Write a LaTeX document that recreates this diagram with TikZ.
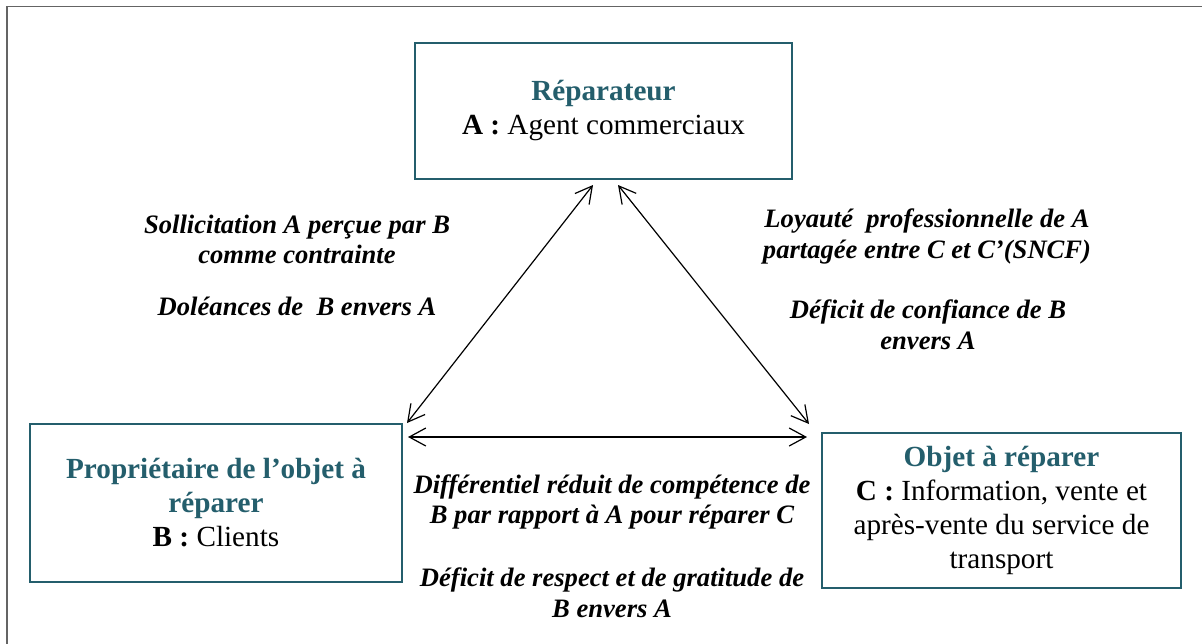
\documentclass[tikz,border=0pt]{standalone}
\usepackage{fontspec}
\setmainfont{Liberation Serif}
\usetikzlibrary{arrows.meta}
\definecolor{boxteal}{RGB}{36,94,108}
\definecolor{framegray}{RGB}{100,100,100}
\begin{document}
\begin{tikzpicture}[x=0.5pt,y=-0.5pt,
  box/.style={draw=boxteal, line width=1pt, inner sep=0pt, align=center,
    font=\fontsize{14.6}{17}\selectfont},
  lbl/.style={anchor=base, inner sep=0pt, font=\fontsize{13.3}{15}\selectfont\bfseries\itshape},
  arr/.style={{Straight Barb[length=8.3pt,width=9pt]}-{Straight Barb[length=8.3pt,width=9pt]}, line width=0.6pt}
]
\useasboundingbox (0,0) rectangle (1202,643);
\draw[framegray, line width=0.8pt] (7,660) -- (7,6.5) -- (1220,6.5);

% boxes
\node[box, minimum width=188.5pt, minimum height=68pt] (A) at (603.5,111)
  {\textcolor{boxteal}{\textbf{Réparateur}}\\\textbf{A :} Agent commerciaux};
\node[box, minimum width=186pt, minimum height=79pt] (B) at (216,503)
  {\textcolor{boxteal}{\textbf{Propriétaire de l’objet à}}\\\textcolor{boxteal}{\textbf{réparer}}\\\textbf{B :} Clients};
\node[box, minimum width=179.5pt, minimum height=77.5pt] (C) at (1001.5,510.5)
  {\textcolor{boxteal}{\textbf{Objet à réparer}}\\\textbf{C :} Information, vente et\\après-vente du service de\\transport};

% connector ends
\coordinate (aB) at (593,185);
\coordinate (aC) at (618,185);
\coordinate (bA) at (407,423);
\coordinate (bC) at (408,437);
\coordinate (cA) at (809,424);
\coordinate (cB) at (807,437);

\draw[arr] (aB) -- (bA);
\draw[arr] (aC) -- (cA);
\draw[arr] (bC) -- (cB);

% labels A-B
\node[lbl] (l1) at (297,233) {Sollicitation A perçue par B};
\node[lbl] (l2) at (297,263) {comme contrainte};
\node[lbl] (l3) at (297,315) {Doléances de\ \ B envers A};
% labels A-C
\node[lbl] (r1) at (927,227) {Loyauté\ \ professionnelle de A};
\node[lbl] (r2) at (927,258) {partagée entre C et C’(SNCF)};
\node[lbl] (r3) at (928,318) {Déficit de confiance de B};
\node[lbl] (r4) at (928,349) {envers A};
% labels B-C
\node[lbl] (b1) at (612,493) {Différentiel réduit de compétence de};
\node[lbl] (b2) at (612,523) {B par rapport à A pour réparer C};
\node[lbl] (b3) at (612,586) {Déficit de respect et de gratitude de};
\node[lbl] (b4) at (612,617) {B envers A};
\end{tikzpicture}
\end{document}
